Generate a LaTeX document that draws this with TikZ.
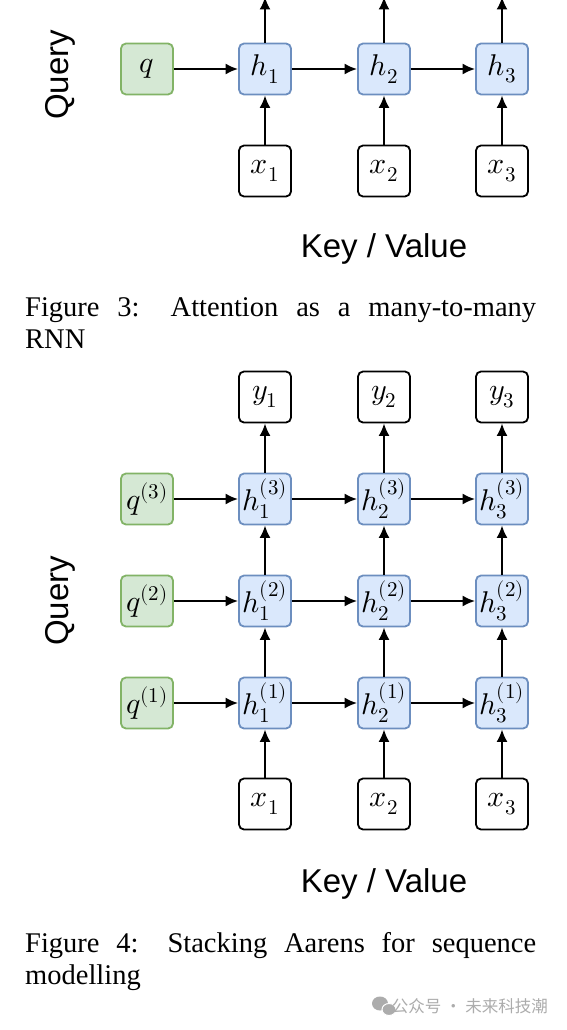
\documentclass[tikz,border=0pt]{standalone}
\usepackage{fontspec}
\usepackage{unicode-math}
\setmainfont{Liberation Serif}
\setsansfont{Liberation Sans}
\setmathfont{Latin Modern Math}
\newfontfamily\cjk{Noto Sans CJK SC}
\usetikzlibrary{arrows.meta}
\definecolor{qfill}{HTML}{D5E8D4}
\definecolor{qline}{HTML}{82B366}
\definecolor{hfill}{HTML}{DAE8FC}
\definecolor{hline}{HTML}{6C8EBF}
\definecolor{wmgray}{RGB}{172,172,172}
\begin{document}
\begin{tikzpicture}[x=1pt,y=-1pt,
  box/.style={draw,line width=1.8pt,rounded corners=5pt,minimum width=52pt,minimum height=51pt,inner sep=0pt,font=\fontsize{30}{34}\selectfont},
  qbox/.style={box,draw=qline,fill=qfill},
  hbox/.style={box,draw=hline,fill=hfill},
  iobox/.style={box,draw=black,fill=white},
  flow/.style={-{Latex[length=12.5pt,width=11pt]},line width=1.9pt},
  lbl/.style={inner sep=0pt,font=\sffamily\fontsize{33}{38}\selectfont},
  caption/.style={inner sep=0pt,text width=511pt,align=justify,font=\fontsize{28.5}{32}\selectfont}]

  \path[fill=white,use as bounding box] (0,0) rectangle (566,1030);

  % Figure 3
  \node[qbox] (q) at (147,69) {$q$};
  \node[hbox] (h1) at (265,69) {$h_1$};
  \node[hbox] (h2) at (384,69) {$h_2$};
  \node[hbox] (h3) at (502,69) {$h_3$};
  \node[iobox] (x1) at (265,171) {$x_1$};
  \node[iobox] (x2) at (384,171) {$x_2$};
  \node[iobox] (x3) at (502,171) {$x_3$};
  \coordinate (o1) at (265,-3);
  \coordinate (o2) at (384,-3);
  \coordinate (o3) at (502,-3);

  \node[lbl,rotate=90] (query1) at (60,75) {Query};
  \node[lbl,anchor=base] (kv1) at (384,257) {Key / Value};
  \node[caption,anchor=base west] (cap3) at (25,316) {Figure 3: Attention as a many-to-many\linebreak RNN};

  \draw[flow] (q) -- (h1);
  \draw[flow] (h1) -- (h2);
  \draw[flow] (h2) -- (h3);
  \draw[flow] (x1) -- (h1);
  \draw[flow] (x2) -- (h2);
  \draw[flow] (x3) -- (h3);
  \draw[flow] (h1) -- (o1);
  \draw[flow] (h2) -- (o2);
  \draw[flow] (h3) -- (o3);

  % Figure 4
  \node[iobox] (y1) at (265,397) {$y_1$};
  \node[iobox] (y2) at (384,397) {$y_2$};
  \node[iobox] (y3) at (502,397) {$y_3$};
  \node[qbox] (q3) at (147,499) {$q^{(3)}$};
  \node[hbox] (h13) at (265,499) {$h_1^{(3)}$};
  \node[hbox] (h23) at (384,499) {$h_2^{(3)}$};
  \node[hbox] (h33) at (502,499) {$h_3^{(3)}$};
  \node[qbox] (q2) at (147,601) {$q^{(2)}$};
  \node[hbox] (h12) at (265,601) {$h_1^{(2)}$};
  \node[hbox] (h22) at (384,601) {$h_2^{(2)}$};
  \node[hbox] (h32) at (502,601) {$h_3^{(2)}$};
  \node[qbox] (q1) at (147,703) {$q^{(1)}$};
  \node[hbox] (h11) at (265,703) {$h_1^{(1)}$};
  \node[hbox] (h21) at (384,703) {$h_2^{(1)}$};
  \node[hbox] (h31) at (502,703) {$h_3^{(1)}$};
  \node[iobox] (X1) at (265,804) {$x_1$};
  \node[iobox] (X2) at (384,804) {$x_2$};
  \node[iobox] (X3) at (502,804) {$x_3$};

  \node[lbl,rotate=90] (query2) at (60,601) {Query};
  \node[lbl,anchor=base] (kv2) at (384,892) {Key / Value};
  \node[caption,anchor=base west] (cap4) at (25,952) {Figure 4: Stacking Aarens for sequence\linebreak modelling};

  \draw[flow] (q3) -- (h13);
  \draw[flow] (h13) -- (h23);
  \draw[flow] (h23) -- (h33);
  \draw[flow] (q2) -- (h12);
  \draw[flow] (h12) -- (h22);
  \draw[flow] (h22) -- (h32);
  \draw[flow] (q1) -- (h11);
  \draw[flow] (h11) -- (h21);
  \draw[flow] (h21) -- (h31);
  \draw[flow] (X1) -- (h11);
  \draw[flow] (h11) -- (h12);
  \draw[flow] (h12) -- (h13);
  \draw[flow] (h13) -- (y1);
  \draw[flow] (X2) -- (h21);
  \draw[flow] (h21) -- (h22);
  \draw[flow] (h22) -- (h23);
  \draw[flow] (h23) -- (y2);
  \draw[flow] (X3) -- (h31);
  \draw[flow] (h31) -- (h32);
  \draw[flow] (h32) -- (h33);
  \draw[flow] (h33) -- (y3);

  % watermark
  \fill[wmgray] (380,1003.5) ellipse (8 and 7);
  \filldraw[fill=wmgray,draw=white,line width=1pt] (389,1009.5) ellipse (7 and 6);
  \node[inner sep=0pt,anchor=base east,text=wmgray,font=\cjk\fontsize{16.5}{18}\selectfont] (wm) at (548,1012) {公众号 · 未来科技潮};

\end{tikzpicture}
\end{document}
